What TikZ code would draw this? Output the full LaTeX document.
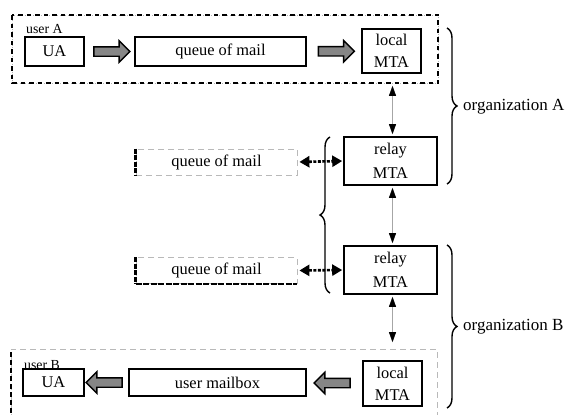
\documentclass[tikz,border=0pt]{standalone}
\usepackage{fontspec}
\setmainfont{Liberation Serif}
\usetikzlibrary{arrows.meta,shapes.arrows,decorations.pathreplacing,calc}
\begin{document}
\begin{tikzpicture}[x=1pt,y=-1pt,
  mainfont/.style={font=\fontsize{16.4}{19}\selectfont},
  box/.style={draw, line width=1.6pt, inner sep=0pt, mainfont, align=center},
  qbox/.style={draw=gray!55, line width=0.8pt, dash pattern=on 6pt off 4pt, inner sep=0pt, mainfont,
    minimum width=161pt, minimum height=26pt},
  blackedge/.style={line width=2.4pt, dash pattern=on 5pt off 1.5pt},
  blk/.style={single arrow, draw, line width=1.4pt, fill=gray!95, minimum height=36pt,
    inner sep=4pt, single arrow head extend=6pt, single arrow tip angle=90},
  thinarr/.style={draw=gray!70, line width=0.6pt, {Triangle[length=10pt,width=7pt,black]}-{Triangle[length=10pt,width=7pt,black]}},
  dotarr/.style={line width=2.6pt, dash pattern=on 3pt off 1.5pt, {Triangle[length=10pt,width=11pt]}-{Triangle[length=10pt,width=11pt]}},
  bracestyle/.style={line width=1.4pt, decorate, decoration={brace, amplitude=10pt}},
  small/.style={font=\fontsize{13.8}{16}\selectfont, inner sep=0pt},
  orgfont/.style={font=\fontsize{17}{20}\selectfont, inner sep=0pt, anchor=west}
]
\useasboundingbox (0,0) rectangle (565,415);

% ---- user A container
\draw[gray!60, line width=0.7pt, dotted] (12,15) rectangle (438,83);
\draw[line width=2.2pt, dash pattern=on 4.5pt off 4pt] (12,15) rectangle (438,83);
\node[small, anchor=base west] (userA) at (26,34) {user A};

\node[box, minimum width=59pt, minimum height=29pt] (uaA) at (54.5,51.5) {UA};
\node[box, minimum width=171pt, minimum height=29pt] (qA) at (220.5,51.5) {queue of mail};
\node[box, minimum width=59pt, minimum height=44pt] (lmA) at (391.5,51) {local\\[3pt]MTA};
\node[blk] (a1) at ($(uaA.east)!0.5!(qA.west)$) {};
\node[blk] (a2) at ($(qA.east)!0.5!(lmA.west)$) {};

% ---- relays
\node[box, minimum width=93pt, minimum height=48pt] (r1) at (390.5,161) {relay\\[5pt]MTA};
\node[box, minimum width=93pt, minimum height=48pt] (r2) at (390.5,270) {relay\\[5pt]MTA};

\node[qbox] (q1) at (216.5,162) {queue of mail};
\node[qbox] (q2) at (216.5,270.5) {queue of mail};
\draw[blackedge] (q1.north west) -- (q1.south west);
\draw[blackedge] (q2.north west) -- (q2.south west);
\draw[line width=2pt, dash pattern=on 6pt off 1.5pt] (q2.south west) -- (q2.south east);

\draw[dotarr, shorten <=2pt, shorten >=1pt] (q1.east) -- (r1.west);
\draw[dotarr, shorten <=2pt, shorten >=1pt] (q2.east) -- (r2.west);

\draw[thinarr, shorten <=12pt, shorten >=2pt] ([xshift=2pt]r1.north |- lmA.south) -- ([xshift=2pt]r1.north);
\draw[thinarr, shorten <=2pt, shorten >=2pt] ([xshift=2pt]r1.south) -- ([xshift=2pt]r2.north);

% ---- user B container
\draw[gray!55, line width=0.8pt, dash pattern=on 6pt off 4pt] (11,420) -- (11,349) -- (437,349) -- (437,420);
\draw[line width=2.4pt, dash pattern=on 5pt off 3pt] (11,352) -- (11,420);
\node[small, anchor=base west] (userB) at (24,369) {user B};

\node[box, minimum width=61pt, minimum height=27pt] (uaB) at (53.5,382.5) {UA};
\node[box, minimum width=177pt, minimum height=27pt] (mbox) at (217.5,382.5) {user mailbox};
\node[box, minimum width=59pt, minimum height=45pt] (lmB) at (392.5,383.5) {local\\[3pt]MTA};
\node[blk, shape border rotate=180] (a3) at ($(uaB.east)!0.5!(mbox.west)$) {};
\node[blk, shape border rotate=180] (a4) at ($(mbox.east)!0.5!(lmB.west)$) {};

\draw[thinarr, shorten <=2pt, shorten >=18pt] ([xshift=2pt]r2.south) -- ([xshift=2pt]r2.south |- lmB.north);

% ---- braces
\draw[bracestyle] (447,28) -- (447,184);
\node[orgfont] (orgA) at (463,107) {organization A};
\draw[bracestyle] (447,245) -- (447,408);
\node[orgfont] (orgB) at (463,327) {organization B};
\draw[bracestyle] (330,293) -- (330,137);
\end{tikzpicture}
\end{document}
